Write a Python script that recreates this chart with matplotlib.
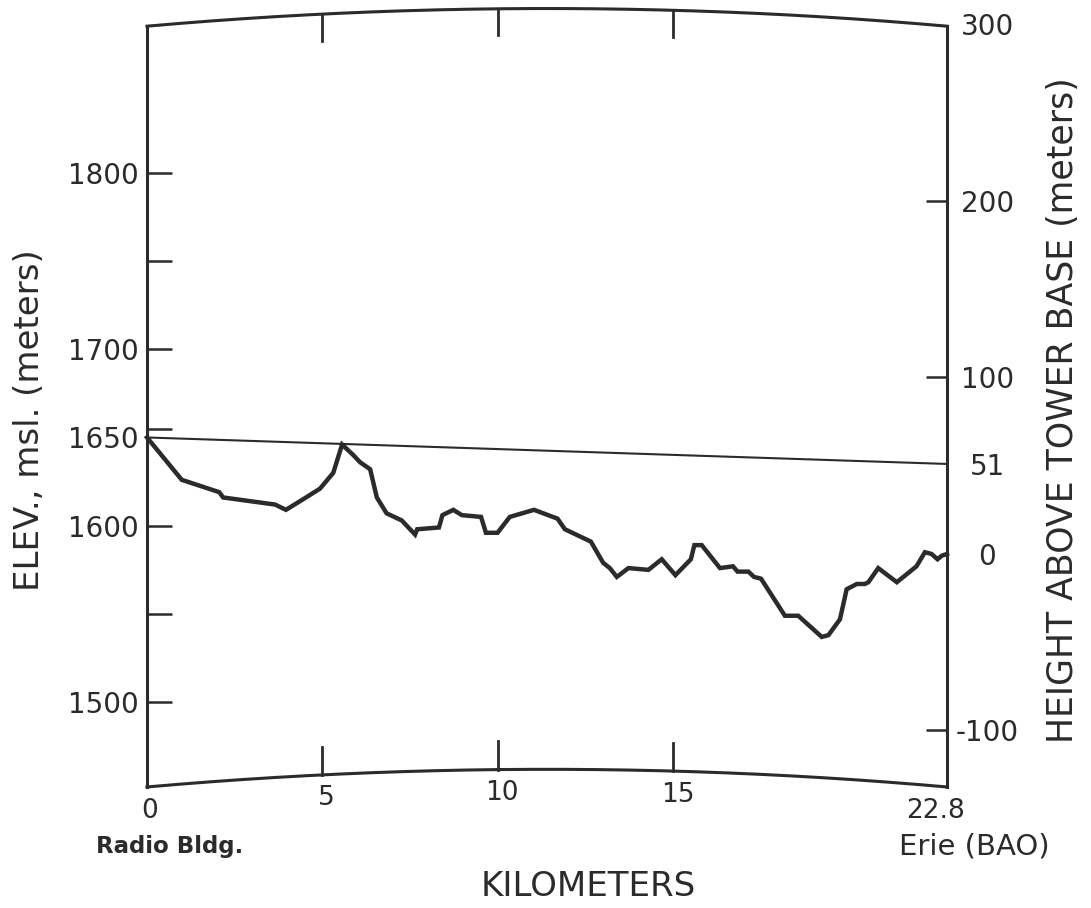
import numpy as np
import matplotlib
matplotlib.use("Agg")
import matplotlib.pyplot as plt

# Terrain profile from the Radio Bldg. (0 km) to Erie / BAO tower (22.8 km)
distance_km = [0.0, 0.99, 2.06, 2.17, 3.65, 3.96, 4.45, 4.93, 5.31, 5.56,
               5.88, 6.07, 6.36, 6.55, 6.83, 7.26, 7.64, 7.70, 8.32, 8.42,
               8.73, 8.97, 9.52, 9.66, 9.99, 10.34, 11.03, 11.70, 11.91, 12.65,
               13.00, 13.19, 13.39, 13.72, 14.29, 14.67, 15.06, 15.50, 15.60, 15.81,
               16.33, 16.70, 16.83, 17.14, 17.30, 17.50, 18.18, 18.56, 19.23, 19.42,
               19.75, 19.94, 20.23, 20.46, 20.56, 20.84, 21.37, 21.93, 22.17, 22.36,
               22.53, 22.65, 22.80]
elevation_m = [1650, 1626, 1619, 1616, 1612, 1609, 1615, 1621, 1630, 1646,
               1640, 1636, 1632, 1616, 1607, 1603, 1595, 1598, 1599, 1606,
               1609, 1606, 1605, 1596, 1596, 1605, 1609, 1604, 1598, 1591,
               1579, 1576, 1571, 1576, 1575, 1581, 1572, 1581, 1589, 1589,
               1576, 1577, 1574, 1574, 1571, 1570, 1549, 1549, 1537, 1538,
               1547, 1564, 1567, 1567, 1568, 1576, 1568, 1577, 1585, 1584,
               1581, 1583, 1584]

path_length_km = 22.8
tower_base_m = 1584          # elevation of the tower base (0 on right scale)
sight_start_m = 1650         # line of sight starts at the Radio Bldg.
sight_end_above_base = 51    # where it meets the tower, m above its base

# Axis ticks and labels
left_ticks = [1800, 1700, 1650, 1600, 1500]
left_labels = ["1800", "1700", "1650", "1600", "1500"]
left_minor = [1750, 1655, 1550]
right_ticks = [200, 100, -100]
right_labels = ["200", "100", "-100"]
right_plain = [300, 51, 0]
right_plain_labels = ["300", "51", "0"]
x_ticks = [5, 10, 15]
x_labels = [("0", 0.0), ("5", 5), ("10", 10), ("15", 15), ("22.8", 22.8)]

INK = "#2b2b2b"
FONT = "DejaVu Sans"
plt.rcParams["font.family"] = [FONT]

W, H = 1091, 908
fig = plt.figure(figsize=(W / 100, H / 100), dpi=100)
fig.patch.set_facecolor("white")


def fx(px):
    return px / W


def fy(py):
    return 1 - py / H


ax = fig.add_axes([fx(147), fy(790.5), 800 / W, (790.5 - 5.0) / H])
ax.set_xlim(0, path_length_km)
ax.set_ylim(1450, 1895)
for s in ax.spines.values():
    s.set_visible(False)

# curved frame (earth curvature) top and bottom
xs = np.linspace(0, path_length_km, 300)
mid = path_length_km / 2
top_corner, bot_corner, sag = 1883, 1452, 10


def top_arc(x):
    return top_corner + sag * (1 - ((x - mid) / mid) ** 2)


def bot_arc(x):
    return bot_corner + sag * (1 - ((x - mid) / mid) ** 2)


frame_kw = dict(color=INK, lw=2.2, clip_on=False, solid_capstyle="projecting")
ax.plot(xs, top_arc(xs), **frame_kw)
ax.plot(xs, bot_arc(xs), **frame_kw)
ax.plot([0, 0], [bot_corner, top_corner], **frame_kw)
ax.plot([path_length_km, path_length_km], [bot_corner, top_corner], **frame_kw)

# distance ticks on the curved frame
for xt in x_ticks:
    ax.plot([xt, xt], [top_arc(xt), top_arc(xt) - 15], color=INK, lw=2.0, clip_on=False)
    ax.plot([xt, xt], [bot_arc(xt), bot_arc(xt) + 16], color=INK, lw=2.0, clip_on=False)

for text, xv in x_labels:
    dx = 2 if xv == 0 else (-8 if xv == path_length_km else 3)
    ax.annotate(text, xy=(xv, bot_arc(xv)), xytext=(dx, -17),
                textcoords="offset points", ha="center", va="center",
                fontsize=19, color=INK, annotation_clip=False)

# line of sight and terrain profile
sight_end_m = tower_base_m + sight_end_above_base
ax.plot([0, path_length_km], [sight_start_m, sight_end_m], color=INK, lw=1.5,
        clip_on=False)
ax.plot(distance_km, elevation_m, color=INK, lw=3.2, solid_joinstyle="miter",
        clip_on=False)

# left elevation scale
ax.set_xticks([])
ax.set_yticks(left_ticks, left_labels)
ax.set_yticks(left_minor, minor=True)
ax.tick_params(axis="y", which="both", direction="in", length=18, width=1.8,
               color=INK, pad=6, labelsize=20, labelcolor=INK)
for tk, val in zip(ax.yaxis.get_major_ticks(), left_ticks):
    if val == 1650:
        tk.tick1line.set_visible(False)

# right scale: height above tower base
sec = ax.secondary_yaxis("right", functions=(lambda e: e - tower_base_m,
                                             lambda h: h + tower_base_m))
sec.spines["right"].set_visible(False)
sec.set_yticks(right_ticks, right_labels)
sec.set_yticks(right_plain, right_plain_labels, minor=True)
sec.tick_params(axis="y", which="major", direction="in", length=15, width=1.8,
                color=INK, pad=29, labelsize=20, labelcolor=INK)
sec.tick_params(axis="y", which="minor", direction="in", length=0,
                pad=29, labelsize=20, labelcolor=INK)
for lab in sec.get_yticklabels(which="both"):
    lab.set_horizontalalignment("center")

# axis titles and place names
fig.text(fx(30), fy(420), "ELEV., msl. (meters)", rotation=90, ha="center",
         va="center", fontsize=24.5, color=INK)
fig.text(fx(1063), fy(410), "HEIGHT ABOVE TOWER BASE (meters)", rotation=90,
         ha="center", va="center", fontsize=25, color=INK)
fig.text(fx(588), fy(887), "KILOMETERS", ha="center", va="center",
         fontsize=24.5, color=INK)
fig.text(fx(170), fy(846), "Radio Bldg.", ha="center", va="center",
         fontsize=16.5, fontweight="bold", color=INK)
fig.text(fx(974), fy(847), "Erie (BAO)", ha="center", va="center",
         fontsize=21, color=INK)

fig.savefig("out.png", dpi=100, facecolor="white")
